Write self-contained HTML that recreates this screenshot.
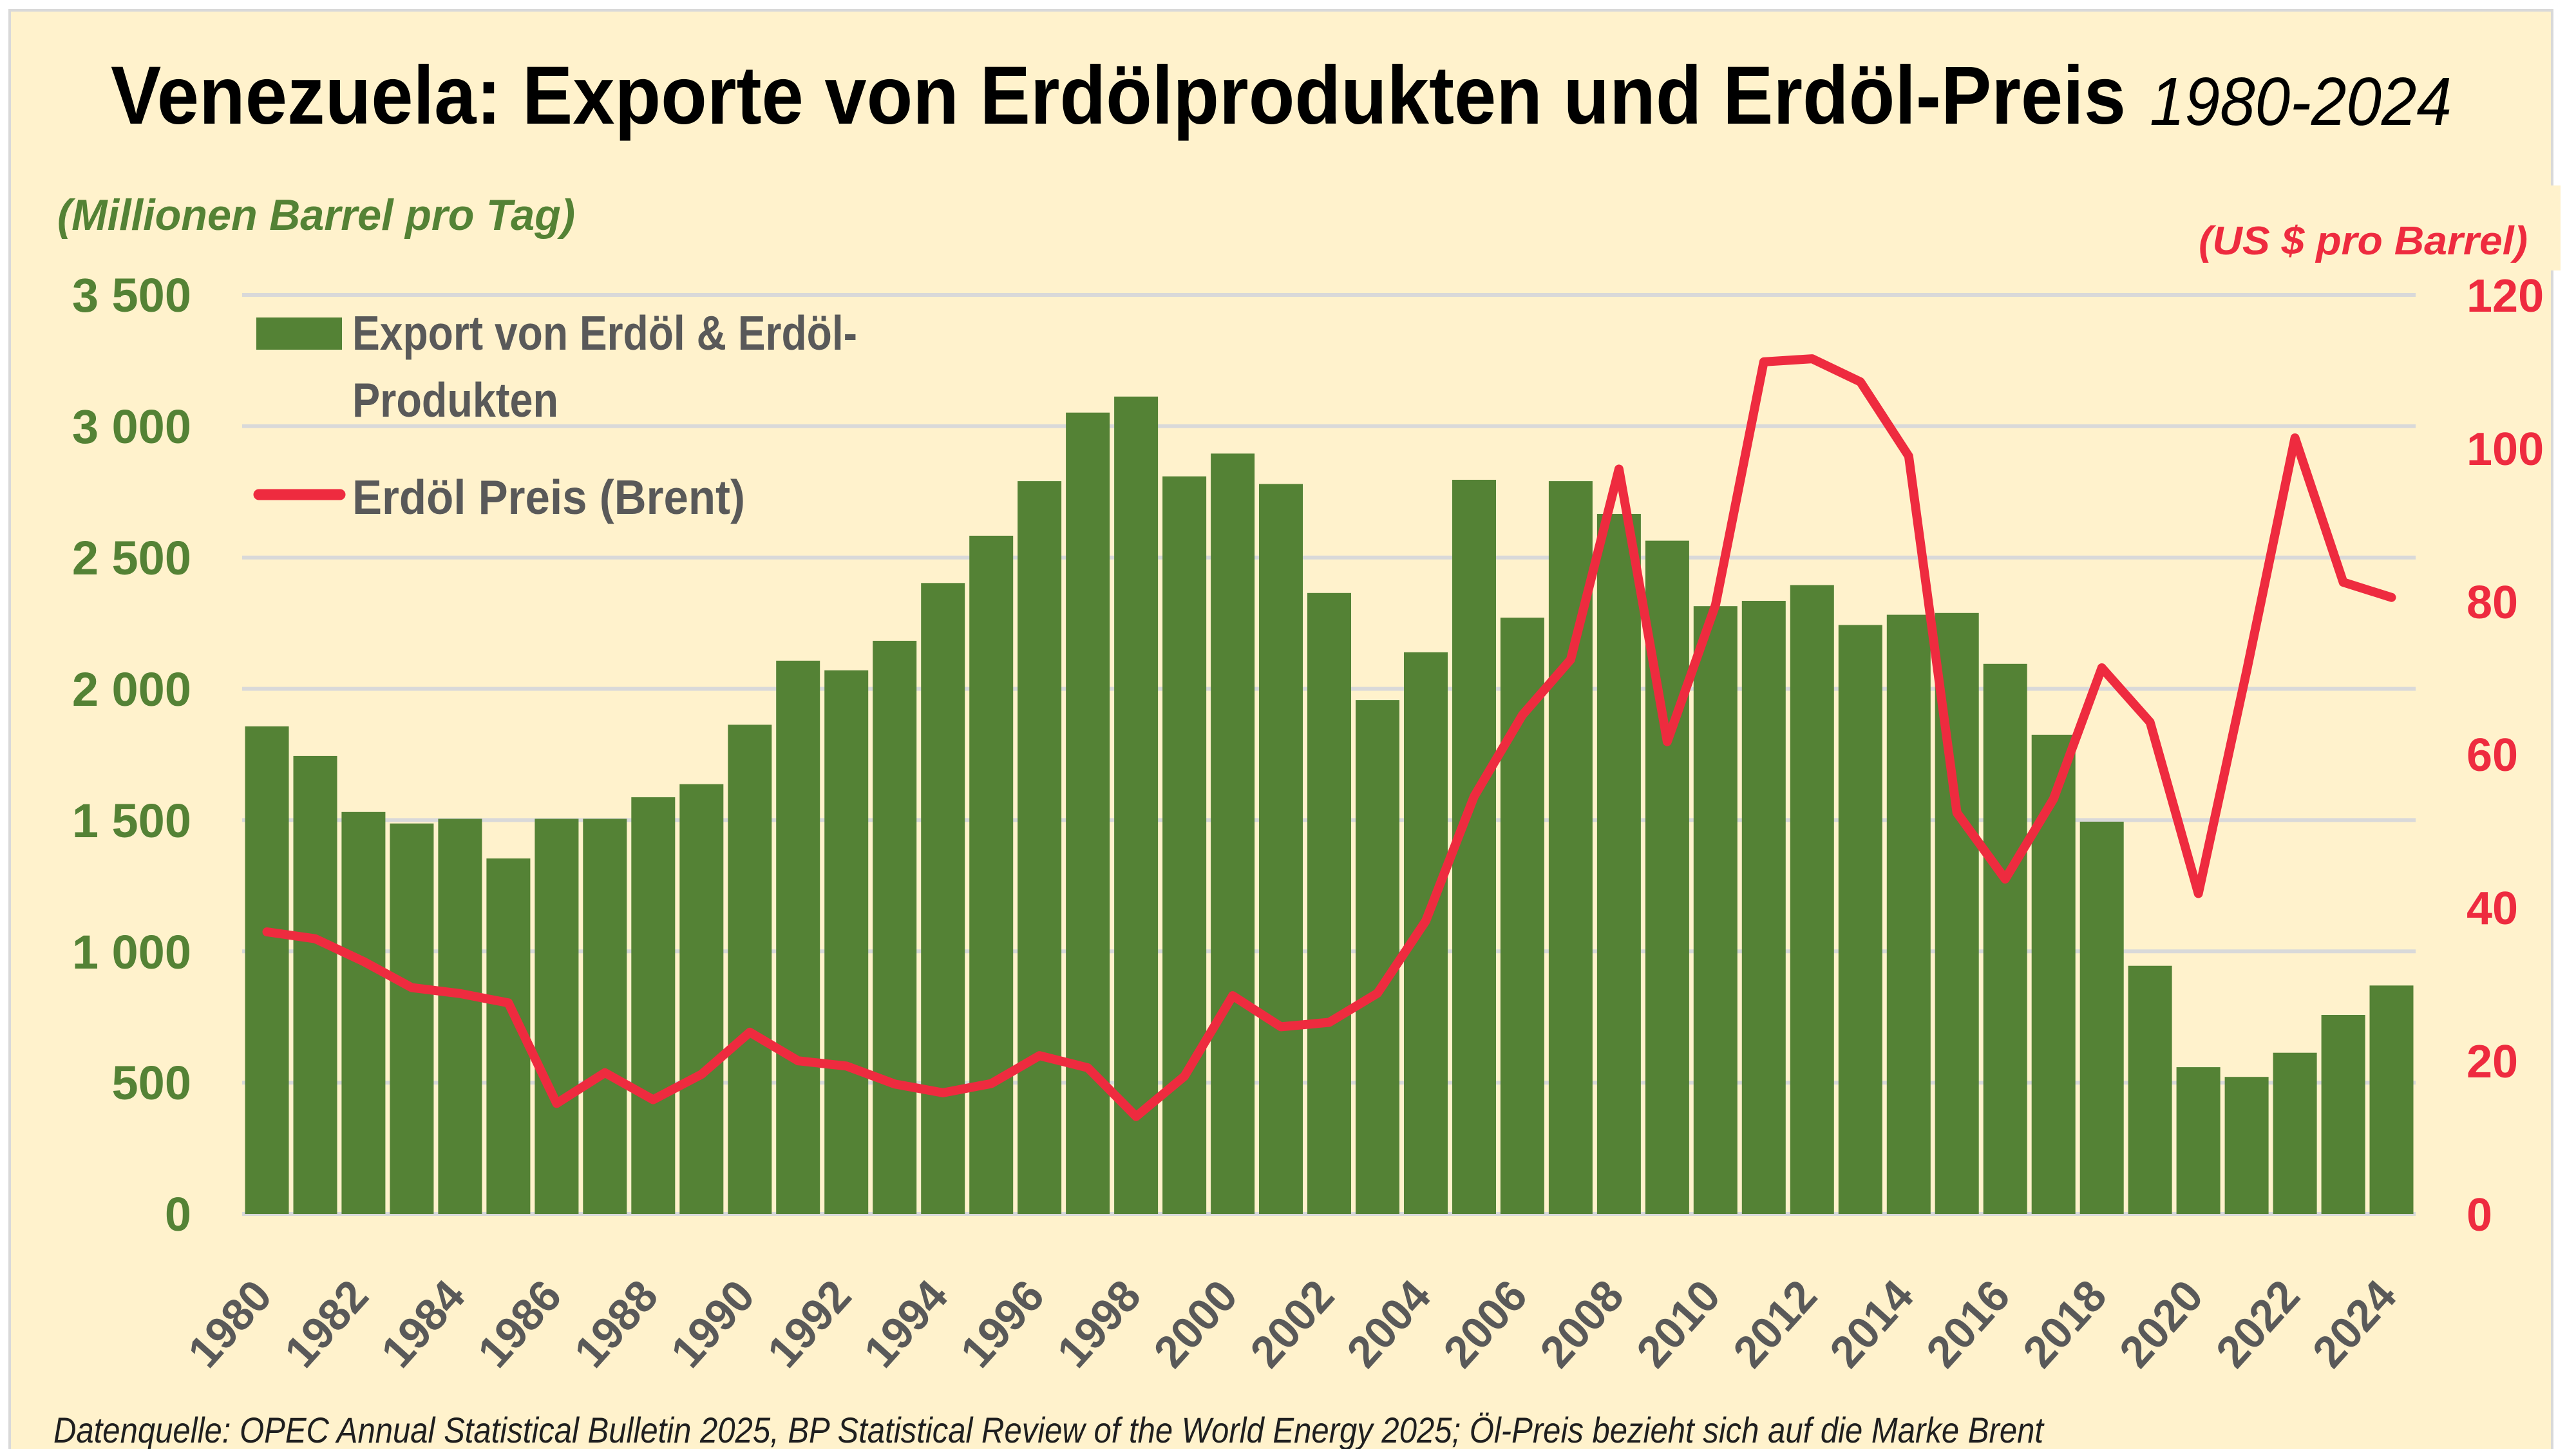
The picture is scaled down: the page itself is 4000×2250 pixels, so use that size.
<!DOCTYPE html>
<html>
<head>
<meta charset="utf-8">
<style>
html,body{margin:0;padding:0;background:#ffffff;}
svg{display:block;}
text{font-family:"Liberation Sans", Arial, sans-serif;}
</style>
</head>
<body>
<svg width="4000" height="2250" viewBox="0 0 4000 2250" xmlns="http://www.w3.org/2000/svg">
  <rect x="0" y="0" width="4000" height="2250" fill="#ffffff"/>
  <!-- chart area -->
  <rect x="15" y="16" width="3948" height="2260" fill="#FFF2CC" stroke="#D9D9D9" stroke-width="4"/>
  <!-- red axis title background box -->
  <rect x="3420" y="288" width="556" height="132" fill="#FFF2CC"/>

  <!-- Title -->
  <text x="172" y="192" font-size="128" font-weight="bold" fill="#000" textLength="3129" lengthAdjust="spacingAndGlyphs">Venezuela: Exporte von Erdölprodukten und Erdöl-Preis</text>
  <text x="3338" y="194" font-size="106" font-style="italic" fill="#000" textLength="469" lengthAdjust="spacingAndGlyphs">1980-2024</text>

  <!-- Axis titles -->
  <text x="89" y="357" font-size="68" font-weight="bold" font-style="italic" fill="#548235" textLength="804" lengthAdjust="spacingAndGlyphs">(Millionen Barrel pro Tag)</text>
  <text x="3414" y="395" font-size="62" font-weight="bold" font-style="italic" fill="#EE2B3F" textLength="511" lengthAdjust="spacingAndGlyphs">(US $ pro Barrel)</text>

  <!-- Gridlines -->
  <g stroke="#D9D9D9" stroke-width="6">
    <line x1="376" y1="458" x2="3751" y2="458"/>
    <line x1="376" y1="661.8" x2="3751" y2="661.8"/>
    <line x1="376" y1="865.7" x2="3751" y2="865.7"/>
    <line x1="376" y1="1069.6" x2="3751" y2="1069.6"/>
    <line x1="376" y1="1273.4" x2="3751" y2="1273.4"/>
    <line x1="376" y1="1477.3" x2="3751" y2="1477.3"/>
    <line x1="376" y1="1681.1" x2="3751" y2="1681.1"/>
    <line x1="376" y1="1885" x2="3751" y2="1885"/>
  </g>

  <!-- Bars -->
  <g fill="#548235">
    <rect x="380.5" y="1127.9" width="68" height="757.1"/>
    <rect x="455.5" y="1173.9" width="68" height="711.1"/>
    <rect x="530.4" y="1260.8" width="68" height="624.2"/>
    <rect x="605.4" y="1278.7" width="68" height="606.3"/>
    <rect x="680.4" y="1271.4" width="68" height="613.6"/>
    <rect x="755.4" y="1333.0" width="68" height="552.0"/>
    <rect x="830.4" y="1271.4" width="68" height="613.6"/>
    <rect x="905.3" y="1271.4" width="68" height="613.6"/>
    <rect x="980.3" y="1238.0" width="68" height="647.0"/>
    <rect x="1055.3" y="1217.6" width="68" height="667.4"/>
    <rect x="1130.3" y="1125.4" width="68" height="759.6"/>
    <rect x="1205.2" y="1025.9" width="68" height="859.1"/>
    <rect x="1280.2" y="1041.0" width="68" height="844.0"/>
    <rect x="1355.2" y="995.0" width="68" height="890.0"/>
    <rect x="1430.2" y="905.3" width="68" height="979.7"/>
    <rect x="1505.2" y="831.9" width="68" height="1053.1"/>
    <rect x="1580.1" y="747.1" width="68" height="1137.9"/>
    <rect x="1655.1" y="640.7" width="68" height="1244.3"/>
    <rect x="1730.1" y="615.8" width="68" height="1269.2"/>
    <rect x="1805.1" y="739.7" width="68" height="1145.3"/>
    <rect x="1880.1" y="704.3" width="68" height="1180.7"/>
    <rect x="1955.0" y="751.6" width="68" height="1133.4"/>
    <rect x="2030.0" y="920.8" width="68" height="964.2"/>
    <rect x="2105.0" y="1087.1" width="68" height="797.9"/>
    <rect x="2180.0" y="1012.9" width="68" height="872.1"/>
    <rect x="2255.0" y="745.0" width="68" height="1140.0"/>
    <rect x="2329.9" y="959.1" width="68" height="925.9"/>
    <rect x="2404.9" y="747.1" width="68" height="1137.9"/>
    <rect x="2479.9" y="798.0" width="68" height="1087.0"/>
    <rect x="2554.9" y="839.6" width="68" height="1045.4"/>
    <rect x="2629.8" y="941.2" width="68" height="943.8"/>
    <rect x="2704.8" y="933.0" width="68" height="952.0"/>
    <rect x="2779.8" y="908.5" width="68" height="976.5"/>
    <rect x="2854.8" y="970.5" width="68" height="914.5"/>
    <rect x="2929.8" y="954.6" width="68" height="930.4"/>
    <rect x="3004.7" y="951.8" width="68" height="933.2"/>
    <rect x="3079.7" y="1030.8" width="68" height="854.2"/>
    <rect x="3154.7" y="1140.9" width="68" height="744.1"/>
    <rect x="3229.7" y="1275.9" width="68" height="609.1"/>
    <rect x="3304.6" y="1499.7" width="68" height="385.3"/>
    <rect x="3379.6" y="1657.1" width="68" height="227.9"/>
    <rect x="3454.6" y="1672.2" width="68" height="212.8"/>
    <rect x="3529.6" y="1634.7" width="68" height="250.3"/>
    <rect x="3604.6" y="1576.0" width="68" height="309.0"/>
    <rect x="3679.5" y="1530.3" width="68" height="354.7"/>
  </g>

  <!-- Price line -->
  <polyline fill="none" stroke="#EE2B3F" stroke-width="14" stroke-linejoin="round" stroke-linecap="round"
    points="414.5,1447.0 489.5,1457.7 564.4,1492.9 639.4,1533.6 714.4,1542.8 789.4,1557.3 864.4,1713.4 939.3,1665.7 1014.3,1707.6 1089.3,1668.2 1164.3,1602.8 1239.2,1647.2 1314.2,1655.3 1389.2,1683.2 1464.2,1696.9 1539.2,1682.6 1614.1,1639.2 1689.1,1658.0 1764.1,1733.7 1839.1,1671.3 1914.1,1546.1 1989.0,1594.4 2064.0,1587.5 2139.0,1542.2 2214.0,1429.9 2289.0,1236.7 2363.9,1110.4 2438.9,1024.2 2513.9,728.4 2588.9,1151.6 2663.8,939.6 2738.8,561.9 2813.8,557.1 2888.8,592.9 2963.8,708.3 3038.7,1262.0 3113.7,1365.0 3188.7,1240.6 3263.7,1037.0 3338.6,1121.4 3413.6,1387.5 3488.6,1041.8 3563.6,680.0 3638.6,904.1 3713.5,927.7"/>

  <!-- Left axis labels -->
  <g font-size="74" font-weight="bold" fill="#548235" text-anchor="end">
    <text x="297" y="484">3 500</text>
    <text x="297" y="688">3 000</text>
    <text x="297" y="892">2 500</text>
    <text x="297" y="1096">2 000</text>
    <text x="297" y="1300">1 500</text>
    <text x="297" y="1504">1 000</text>
    <text x="297" y="1707">500</text>
    <text x="297" y="1911">0</text>
  </g>

  <!-- Right axis labels -->
  <g font-size="72" font-weight="bold" fill="#EE2B3F" text-anchor="start">
    <text x="3830" y="484">120</text>
    <text x="3830" y="722">100</text>
    <text x="3830" y="960">80</text>
    <text x="3830" y="1197">60</text>
    <text x="3830" y="1435">40</text>
    <text x="3830" y="1673">20</text>
    <text x="3830" y="1911">0</text>
  </g>

  <!-- X axis labels -->
  <g font-size="70" font-weight="bold" fill="#595959" text-anchor="end">
    <text transform="translate(425.5,2015) rotate(-48)" textLength="152" lengthAdjust="spacingAndGlyphs">1980</text>
    <text transform="translate(575.4,2015) rotate(-48)" textLength="152" lengthAdjust="spacingAndGlyphs">1982</text>
    <text transform="translate(725.4,2015) rotate(-48)" textLength="152" lengthAdjust="spacingAndGlyphs">1984</text>
    <text transform="translate(875.4,2015) rotate(-48)" textLength="152" lengthAdjust="spacingAndGlyphs">1986</text>
    <text transform="translate(1025.3,2015) rotate(-48)" textLength="152" lengthAdjust="spacingAndGlyphs">1988</text>
    <text transform="translate(1175.3,2015) rotate(-48)" textLength="152" lengthAdjust="spacingAndGlyphs">1990</text>
    <text transform="translate(1325.2,2015) rotate(-48)" textLength="152" lengthAdjust="spacingAndGlyphs">1992</text>
    <text transform="translate(1475.2,2015) rotate(-48)" textLength="152" lengthAdjust="spacingAndGlyphs">1994</text>
    <text transform="translate(1625.1,2015) rotate(-48)" textLength="152" lengthAdjust="spacingAndGlyphs">1996</text>
    <text transform="translate(1775.1,2015) rotate(-48)" textLength="152" lengthAdjust="spacingAndGlyphs">1998</text>
    <text transform="translate(1925.1,2015) rotate(-48)" textLength="152" lengthAdjust="spacingAndGlyphs">2000</text>
    <text transform="translate(2075.0,2015) rotate(-48)" textLength="152" lengthAdjust="spacingAndGlyphs">2002</text>
    <text transform="translate(2225.0,2015) rotate(-48)" textLength="152" lengthAdjust="spacingAndGlyphs">2004</text>
    <text transform="translate(2374.9,2015) rotate(-48)" textLength="152" lengthAdjust="spacingAndGlyphs">2006</text>
    <text transform="translate(2524.9,2015) rotate(-48)" textLength="152" lengthAdjust="spacingAndGlyphs">2008</text>
    <text transform="translate(2674.8,2015) rotate(-48)" textLength="152" lengthAdjust="spacingAndGlyphs">2010</text>
    <text transform="translate(2824.8,2015) rotate(-48)" textLength="152" lengthAdjust="spacingAndGlyphs">2012</text>
    <text transform="translate(2974.8,2015) rotate(-48)" textLength="152" lengthAdjust="spacingAndGlyphs">2014</text>
    <text transform="translate(3124.7,2015) rotate(-48)" textLength="152" lengthAdjust="spacingAndGlyphs">2016</text>
    <text transform="translate(3274.7,2015) rotate(-48)" textLength="152" lengthAdjust="spacingAndGlyphs">2018</text>
    <text transform="translate(3424.6,2015) rotate(-48)" textLength="152" lengthAdjust="spacingAndGlyphs">2020</text>
    <text transform="translate(3574.6,2015) rotate(-48)" textLength="152" lengthAdjust="spacingAndGlyphs">2022</text>
    <text transform="translate(3724.5,2015) rotate(-48)" textLength="152" lengthAdjust="spacingAndGlyphs">2024</text>
  </g>

  <!-- Legend -->
  <rect x="398" y="493" width="133" height="50" fill="#548235"/>
  <text x="547" y="543" font-size="75" font-weight="bold" fill="#595959" textLength="784" lengthAdjust="spacingAndGlyphs">Export von Erdöl &amp; Erdöl-</text>
  <text x="547" y="647" font-size="75" font-weight="bold" fill="#595959" textLength="320" lengthAdjust="spacingAndGlyphs">Produkten</text>
  <line x1="402" y1="768" x2="528" y2="768" stroke="#EE2B3F" stroke-width="17" stroke-linecap="round"/>
  <text x="547" y="798" font-size="75" font-weight="bold" fill="#595959" textLength="610" lengthAdjust="spacingAndGlyphs">Erdöl Preis (Brent)</text>

  <!-- Footer -->
  <text x="83" y="2240" font-size="56" font-style="italic" fill="#1f1f1f" textLength="3090" lengthAdjust="spacingAndGlyphs">Datenquelle: OPEC Annual Statistical Bulletin 2025, BP Statistical Review of the World Energy 2025; Öl-Preis bezieht sich auf die Marke Brent</text>
</svg>
</body>
</html>
